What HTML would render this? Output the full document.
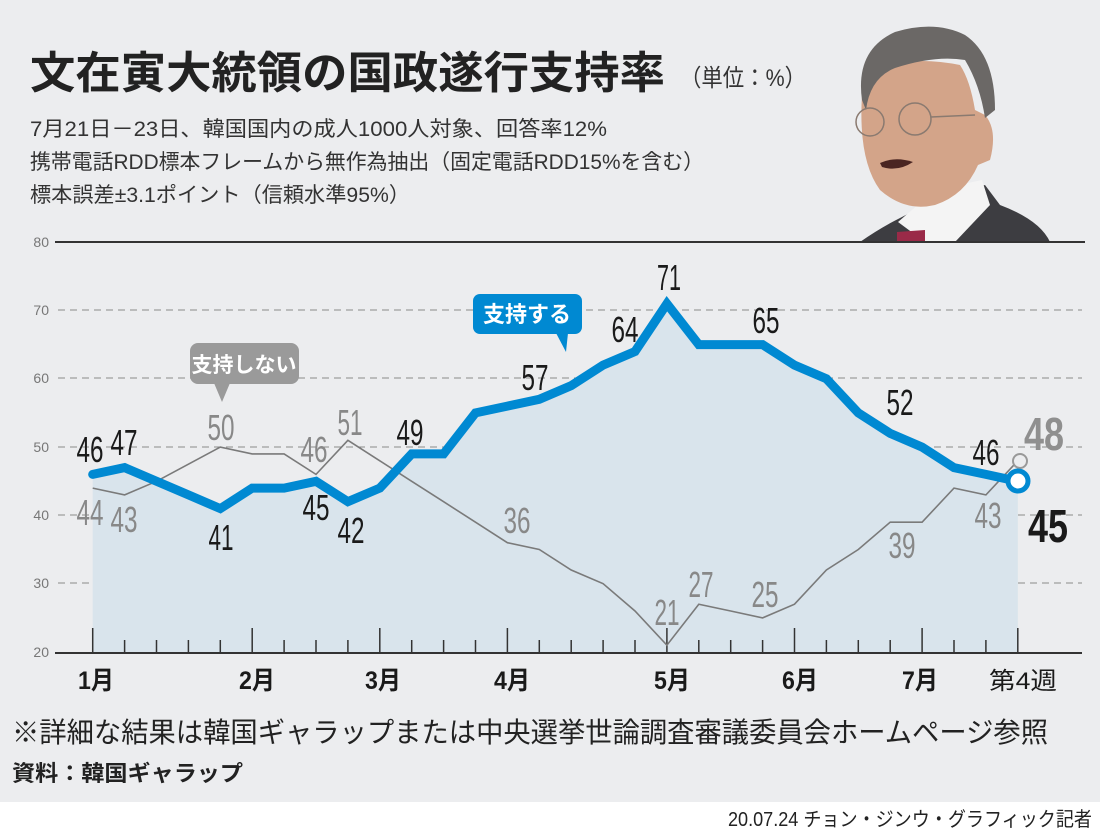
<!DOCTYPE html>
<html><head><meta charset="utf-8"><style>
body{margin:0;width:1100px;height:832px;background:#fff;overflow:hidden}
svg{display:block}
text{font-family:"Liberation Sans","Noto Sans CJK JP",sans-serif}
</style></head><body>
<svg width="1100" height="832" viewBox="0 0 1100 832" xmlns="http://www.w3.org/2000/svg">
<rect x="0" y="0" width="1100" height="802" fill="#ecedef"/>
<!-- photo -->
<g>
<path d="M860 242 Q880 228 900 218 L935 200 L985 185 L1000 205 Q1040 220 1050 242Z" fill="#3d3d41"/>
<path d="M898 222 L935 190 L982 180 L990 205 L955 242 L925 242Z" fill="#f4f4f4"/>
<path d="M897 232 L925 230 L925 242 L897 242Z" fill="#9a2a48"/>
<path d="M862 95 Q858 160 880 190 Q905 212 935 205 Q965 195 978 165 L990 160 Q998 130 985 115 L975 110 Q970 80 960 65 Q910 55 870 70Z" fill="#d3a489"/>
<path d="M862 100 Q855 50 895 32 Q935 20 965 35 Q995 55 995 110 L985 118 Q980 85 965 60 Q935 55 895 68 Q870 78 866 110Z" fill="#6b6866"/>
<circle cx="870" cy="122" r="14" fill="none" stroke="#8a7a70" stroke-width="1.5"/>
<circle cx="915" cy="119" r="16" fill="none" stroke="#8a7a70" stroke-width="1.5"/>
<line x1="931" y1="117" x2="975" y2="115" stroke="#8a7a70" stroke-width="1.5"/>
<path d="M880 163 Q895 156 913 162 Q898 172 882 167Z" fill="#4a2522"/>
</g>
<!-- title -->
<text x="30" y="88" font-size="44" font-weight="bold" fill="#222" textLength="635" lengthAdjust="spacingAndGlyphs">文在寅大統領の国政遂行支持率</text>
<text x="680" y="86" font-size="24" fill="#333" textLength="126" lengthAdjust="spacingAndGlyphs">（単位：%）</text>
<text x="30" y="136" font-size="21" fill="#333" textLength="577" lengthAdjust="spacingAndGlyphs">7月21日－23日、韓国国内の成人1000人対象、回答率12%</text>
<text x="30" y="169" font-size="21" fill="#333" textLength="674" lengthAdjust="spacingAndGlyphs">携帯電話RDD標本フレームから無作為抽出（固定電話RDD15%を含む）</text>
<text x="30" y="202" font-size="21" fill="#333" textLength="380" lengthAdjust="spacingAndGlyphs">標本誤差±3.1ポイント（信頼水準95%）</text>
<!-- grid -->
<g stroke="#8a8a8a" stroke-width="1" stroke-dasharray="7,5">
<line x1="58" y1="310" x2="1082" y2="310"/><line x1="58" y1="378" x2="1082" y2="378"/>
<line x1="58" y1="447" x2="1082" y2="447"/><line x1="58" y1="515" x2="1082" y2="515"/>
<line x1="58" y1="583" x2="1082" y2="583"/>
</g>
<g font-size="14" fill="#777" text-anchor="end">
<text x="49" y="247">80</text><text x="49" y="315">70</text><text x="49" y="383">60</text>
<text x="49" y="452">50</text><text x="49" y="520">40</text><text x="49" y="588">30</text><text x="49" y="657">20</text>
</g>
<path id="area" d="" fill="#d9e4ec"/>
<line x1="55" y1="242" x2="1085" y2="242" stroke="#333" stroke-width="2"/>
<g id="ticks" stroke="#333" stroke-width="1.5"></g>
<polyline id="opp" fill="none" stroke="#7a7a7a" stroke-width="1.6" points=""/>
<polyline id="sup" fill="none" stroke="#0089d2" stroke-width="9" stroke-linejoin="miter" stroke-linecap="round" points=""/>
<line x1="55" y1="653" x2="1082" y2="653" stroke="#333" stroke-width="2"/>
<circle cx="1020" cy="461" r="7" fill="#ecedef" stroke="#999" stroke-width="2"/>
<circle cx="1018" cy="481" r="10" fill="#fff" stroke="#0089d2" stroke-width="5"/>
<g font-size="36" fill="#1a1a1a" text-anchor="middle">
<text x="90" y="462" textLength="27" lengthAdjust="spacingAndGlyphs">46</text>
<text x="124" y="455" textLength="27" lengthAdjust="spacingAndGlyphs">47</text>
<text x="221" y="550" textLength="25" lengthAdjust="spacingAndGlyphs">41</text>
<text x="316" y="520" textLength="27" lengthAdjust="spacingAndGlyphs">45</text>
<text x="351" y="543" textLength="27" lengthAdjust="spacingAndGlyphs">42</text>
<text x="410" y="445" textLength="27" lengthAdjust="spacingAndGlyphs">49</text>
<text x="535" y="390" textLength="27" lengthAdjust="spacingAndGlyphs">57</text>
<text x="625" y="342" textLength="27" lengthAdjust="spacingAndGlyphs">64</text>
<text x="669" y="290" textLength="24" lengthAdjust="spacingAndGlyphs">71</text>
<text x="766" y="333" textLength="27" lengthAdjust="spacingAndGlyphs">65</text>
<text x="900" y="415" textLength="27" lengthAdjust="spacingAndGlyphs">52</text>
<text x="986" y="465" textLength="27" lengthAdjust="spacingAndGlyphs">46</text>
</g>
<g font-size="36" fill="#888" text-anchor="middle">
<text x="90" y="525" textLength="27" lengthAdjust="spacingAndGlyphs">44</text>
<text x="124" y="532" textLength="27" lengthAdjust="spacingAndGlyphs">43</text>
<text x="221" y="440" textLength="27" lengthAdjust="spacingAndGlyphs">50</text>
<text x="314" y="462" textLength="27" lengthAdjust="spacingAndGlyphs">46</text>
<text x="350" y="435" textLength="25" lengthAdjust="spacingAndGlyphs">51</text>
<text x="517" y="533" textLength="27" lengthAdjust="spacingAndGlyphs">36</text>
<text x="667" y="625" textLength="25" lengthAdjust="spacingAndGlyphs">21</text>
<text x="701" y="597" textLength="25" lengthAdjust="spacingAndGlyphs">27</text>
<text x="765" y="607" textLength="27" lengthAdjust="spacingAndGlyphs">25</text>
<text x="902" y="558" textLength="27" lengthAdjust="spacingAndGlyphs">39</text>
<text x="988" y="528" textLength="27" lengthAdjust="spacingAndGlyphs">43</text>
</g>
<text x="1044" y="450" font-size="46" font-weight="bold" fill="#8f8f8f" text-anchor="middle" textLength="40" lengthAdjust="spacingAndGlyphs">48</text>
<text x="1048" y="542" font-size="46" font-weight="bold" fill="#1a1a1a" text-anchor="middle" textLength="40" lengthAdjust="spacingAndGlyphs">45</text>
<rect x="473" y="294" width="109" height="40" rx="7" fill="#0089d2"/>
<path d="M556 333 L568 333 L566 352Z" fill="#0089d2"/>
<text x="527" y="322" font-size="22" font-weight="bold" fill="#fff" text-anchor="middle">支持する</text>
<rect x="190" y="343" width="109" height="41" rx="8" fill="#9a9a9a"/>
<path d="M214 383 L230 383 L222 402Z" fill="#9a9a9a"/>
<text x="244" y="372" font-size="21" font-weight="bold" fill="#fff" text-anchor="middle">支持しない</text>
<g font-size="25" font-weight="bold" fill="#1a1a1a" text-anchor="middle">
<text x="96" y="689" textLength="36" lengthAdjust="spacingAndGlyphs">1月</text><text x="257" y="689" textLength="36" lengthAdjust="spacingAndGlyphs">2月</text><text x="383" y="689" textLength="36" lengthAdjust="spacingAndGlyphs">3月</text>
<text x="512" y="689" textLength="36" lengthAdjust="spacingAndGlyphs">4月</text><text x="672" y="689" textLength="36" lengthAdjust="spacingAndGlyphs">5月</text><text x="800" y="689" textLength="36" lengthAdjust="spacingAndGlyphs">6月</text>
<text x="920" y="689" textLength="36" lengthAdjust="spacingAndGlyphs">7月</text>
</g>
<text x="1023" y="689" font-size="24" fill="#1a1a1a" text-anchor="middle" textLength="68" lengthAdjust="spacingAndGlyphs">第4週</text>
<text x="12" y="742" font-size="28" fill="#222" textLength="1036" lengthAdjust="spacingAndGlyphs">※詳細な結果は韓国ギャラップまたは中央選挙世論調査審議委員会ホームページ参照</text>
<text x="12" y="781" font-size="22" font-weight="bold" fill="#222" textLength="231" lengthAdjust="spacingAndGlyphs">資料：韓国ギャラップ</text>
<text x="728" y="826" font-size="20" fill="#222" textLength="364" lengthAdjust="spacingAndGlyphs">20.07.24  チョン・ジンウ・グラフィック記者</text>
</svg>
<script>
var sup=[46,47,45,43,41,44,44,45,42,44,49,49,55,56,57,59,62,64,71,65,65,65,62,60,55,52,50,47,46,45];
var opp=[44,43,45,47.5,50,49,49,46,51,48,45,42,39,36,35,32,30,26,21,27,26,25,27,32,35,39,39,44,43,48];
function X(i){return 92.7+31.9*i}function Y(v){return 652-(v-20)*6.83}
var ps=sup.map(function(v,i){return X(i).toFixed(1)+','+Y(v).toFixed(1)}).join(' ');
var po=opp.map(function(v,i){return X(i).toFixed(1)+','+Y(v).toFixed(1)}).join(' ');
document.getElementById('sup').setAttribute('points',ps);
document.getElementById('opp').setAttribute('points',po);
document.getElementById('area').setAttribute('d','M'+X(0)+',653 L'+ps.split(' ').join(' L')+' L'+X(29)+',653Z');
var months=[0,5,9,13,18,22,26,29],g=document.getElementById('ticks'),s='';
for(var i=0;i<30;i++){var t=months.indexOf(i)>=0?628:640;s+='<line x1="'+X(i)+'" y1="'+t+'" x2="'+X(i)+'" y2="653"/>';}
g.innerHTML=s;
</script>
</body></html>
